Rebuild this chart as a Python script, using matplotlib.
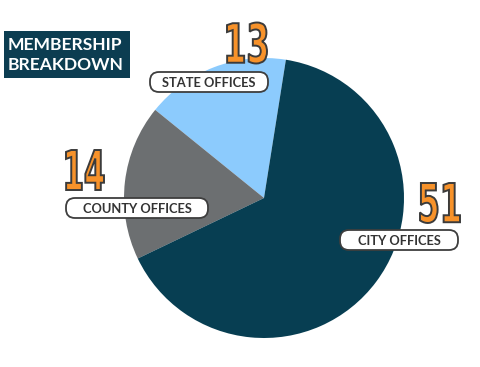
import matplotlib.pyplot as plt
from matplotlib.patches import FancyBboxPatch, PathPatch
from matplotlib.textpath import TextPath
from matplotlib.font_manager import FontProperties
from matplotlib.transforms import Affine2D

# Data
labels = ["STATE OFFICES", "COUNTY OFFICES", "CITY OFFICES"]
values = [13, 14, 51]
colors = ["#8ccbfd", "#6c6f71", "#073e52"]
title_lines = ["MEMBERSHIP", "BREAKDOWN"]

fig = plt.figure(figsize=(4.8, 3.67), dpi=100)
ax = fig.add_axes([0, 0, 1, 1])

# pie (y axis inverted -> counterclock=False draws counterclockwise on screen)
ax.pie(values, colors=colors, startangle=-81, counterclock=False,
       center=(264, 198), radius=140, frame=True)
ax.set_xlim(0, 480)
ax.set_ylim(367, 0)
ax.set_aspect('equal')
ax.axis('off')

# title box
ax.add_patch(FancyBboxPatch((4, 31), 126, 47, boxstyle="square,pad=0",
                            fc="#0c3d51", ec="none"))
for i, line in enumerate(title_lines):
    ax.text(8, 45 + 20 * i, line, color="white", fontsize=12.6, fontweight="bold",
            family="Lato", va="center", ha="left")


def big_number(s, cx, cy, w, h):
    tp = TextPath((0, 0), s, size=50, prop=FontProperties(family="DejaVu Sans", weight="bold"))
    ext = tp.get_extents()
    tr = (Affine2D().translate(-(ext.x0 + ext.x1) / 2, -(ext.y0 + ext.y1) / 2)
          .scale(w / ext.width, -h / ext.height).translate(cx, cy))
    ax.add_patch(PathPatch(tr.transform_path(tp), fc="#f7922a", ec="#3b3b3b", lw=1.4))


def pill(s, cx, cy, w):
    ax.add_patch(FancyBboxPatch((cx - w / 2 + 9, cy - 1), w - 18, 2,
                                boxstyle="round,pad=9", fc="white", ec="#3e3e3e", lw=1.3))
    ax.text(cx, cy + 1, s, fontsize=9.3, family="Lato", fontweight="bold",
            color="#333333", ha="center", va="center")


big_number(str(values[0]), 247, 43, 40, 41)
pill(labels[0], 209, 82, 118)

big_number(str(values[1]), 85, 170, 38, 40)
pill(labels[1], 137, 208, 142)

big_number(str(values[2]), 440, 203, 40, 40)
pill(labels[2], 399, 240, 118)

fig.savefig("out.png", dpi=100)
